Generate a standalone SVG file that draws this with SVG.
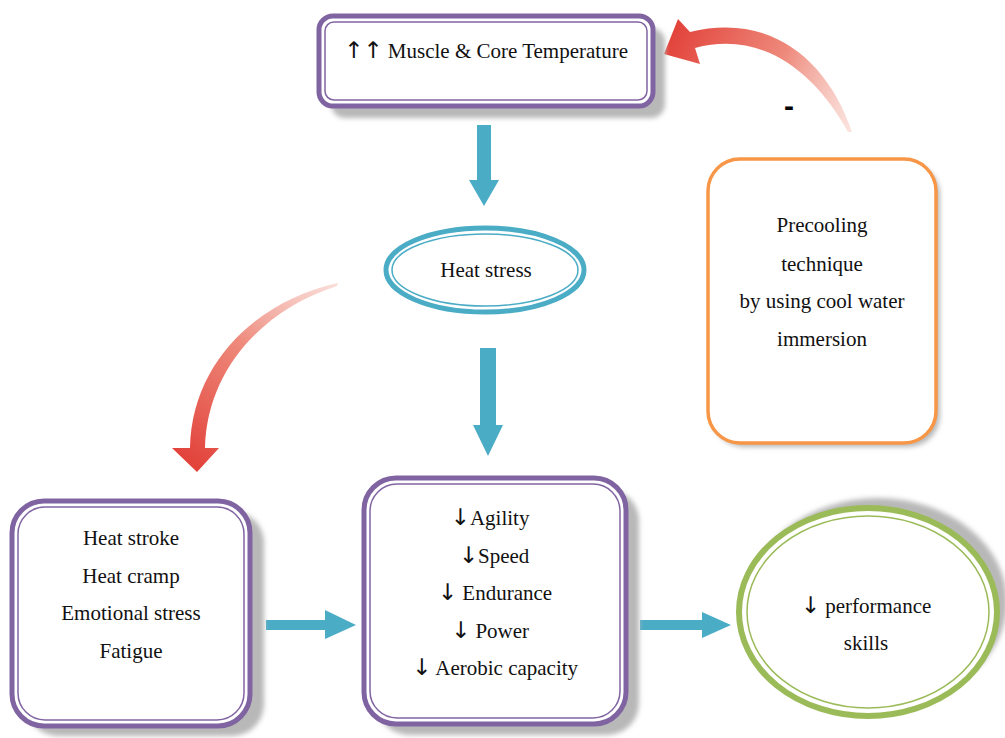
<svg xmlns="http://www.w3.org/2000/svg" width="1005" height="738" viewBox="0 0 1005 738">
<style>
.t{font-family:"Liberation Serif","Times New Roman",serif;font-size:21px;fill:#111;text-anchor:middle}
.a{font-family:"DejaVu Sans",sans-serif;font-size:23px;fill:#111}
.pO{fill:#fff;stroke:#8064A2;stroke-width:5}
.pI{fill:none;stroke:#8064A2;stroke-width:1.5}
.sh{fill:#b8b8b8;filter:url(#blur)}
.blue{fill:#4BACC6}
</style>
<defs>
<filter id="blur" x="-10%" y="-10%" width="120%" height="120%"><feGaussianBlur stdDeviation="2.5"/></filter>
<linearGradient id="gL" gradientUnits="userSpaceOnUse" x1="337" y1="284" x2="197" y2="470">
<stop offset="0" stop-color="#F6C7BE" stop-opacity="0.6"/><stop offset="0.45" stop-color="#EE8A7C"/><stop offset="1" stop-color="#E2423A"/></linearGradient>
<linearGradient id="gR" gradientUnits="userSpaceOnUse" x1="850" y1="132" x2="665" y2="45">
<stop offset="0" stop-color="#F8D0C8" stop-opacity="0.6"/><stop offset="0.45" stop-color="#EE8A7C"/><stop offset="1" stop-color="#E2423A"/></linearGradient>
</defs>

<g id="connectors">
<path class="blue" d="M477,125 H491 V180 H499 L484,206 L469,180 H477 Z"/>
<path class="blue" d="M480,348 H496 V425 H503 L488,456 L473,425 H480 Z"/>
<path class="blue" d="M266,620 H325 V610 L356,625 L325,639 V630 H266 Z"/>
<path class="blue" d="M640,620 H702 V612 L731,625 L702,638 V630 H640 Z"/>
<path fill="url(#gL)" d="M338,283 C260,300 192,360 190,448 L172,448 L197,472 L219,448 L205,448 C207,370 262,310 337,286 Z"/>
<path fill="url(#gR)" d="M852,132 C828,60 770,12 690,32 L678,19 L664,54 L700,64 L695,48 C762,30 815,72 848,132 Z"/>
<text x="789" y="116" style="font-family:'Liberation Sans',Arial,sans-serif;font-size:30px;font-weight:bold;fill:#000;text-anchor:middle">-</text>
</g>

<g id="node-temp">
<rect class="sh" x="331" y="28" width="334" height="90" rx="14"/>
<rect class="pO" x="319" y="16" width="334" height="90" rx="14"/>
<rect class="pI" x="325" y="22" width="322" height="78" rx="9"/>
<text class="t" x="486" y="58"><tspan class="a">↑↑</tspan> Muscle &amp; Core Temperature</text>
</g>

<g id="node-heatstress">
<ellipse cx="485" cy="270" rx="99" ry="42" fill="#fff" stroke="#4BACC6" stroke-width="5"/>
<ellipse cx="485" cy="270" rx="93" ry="36" fill="none" stroke="#4BACC6" stroke-width="1.5"/>
<text class="t" x="486" y="277">Heat stress</text>
</g>

<g id="node-precooling">
<rect class="sh" x="712" y="163" width="228" height="284" rx="32"/>
<rect x="708" y="159" width="228" height="284" rx="32" fill="#fff" stroke="#F79646" stroke-width="3.5"/>
<text class="t" x="822" y="232">Precooling</text>
<text class="t" x="822" y="271">technique</text>
<text class="t" x="822" y="308">by using cool water</text>
<text class="t" x="822" y="346">immersion</text>
</g>

<g id="node-effects">
<rect class="sh" x="26" y="511" width="238" height="225" rx="32"/>
<rect class="pO" x="12" y="501" width="238" height="225" rx="32"/>
<rect class="pI" x="18" y="507" width="226" height="213" rx="27"/>
<text class="t" x="131" y="545">Heat stroke</text>
<text class="t" x="131" y="583">Heat cramp</text>
<text class="t" x="131" y="620">Emotional stress</text>
<text class="t" x="131" y="658">Fatigue</text>
</g>

<g id="node-fitness">
<rect class="sh" x="377" y="489" width="262" height="246" rx="32"/>
<rect class="pO" x="364" y="478" width="262" height="246" rx="32"/>
<rect class="pI" x="370" y="484" width="250" height="234" rx="27"/>
<text class="t" x="490" y="525"><tspan class="a">↓</tspan>Agility</text>
<text class="t" x="494" y="563"><tspan class="a">↓</tspan>Speed</text>
<text class="t" x="495" y="600"><tspan class="a">↓</tspan> Endurance</text>
<text class="t" x="490" y="638"><tspan class="a">↓</tspan> Power</text>
<text class="t" x="495" y="675"><tspan class="a">↓</tspan> Aerobic capacity</text>
</g>

<g id="node-performance">
<ellipse class="sh" cx="878" cy="602" rx="129" ry="104"/>
<ellipse cx="868" cy="612" rx="129" ry="104" fill="#fff" stroke="#9BBB59" stroke-width="6"/>
<ellipse cx="868" cy="612" rx="121" ry="96" fill="none" stroke="#9BBB59" stroke-width="1.5"/>
<text class="t" x="866" y="613"><tspan class="a">↓</tspan> performance</text>
<text class="t" x="866" y="650">skills</text>
</g>
</svg>
